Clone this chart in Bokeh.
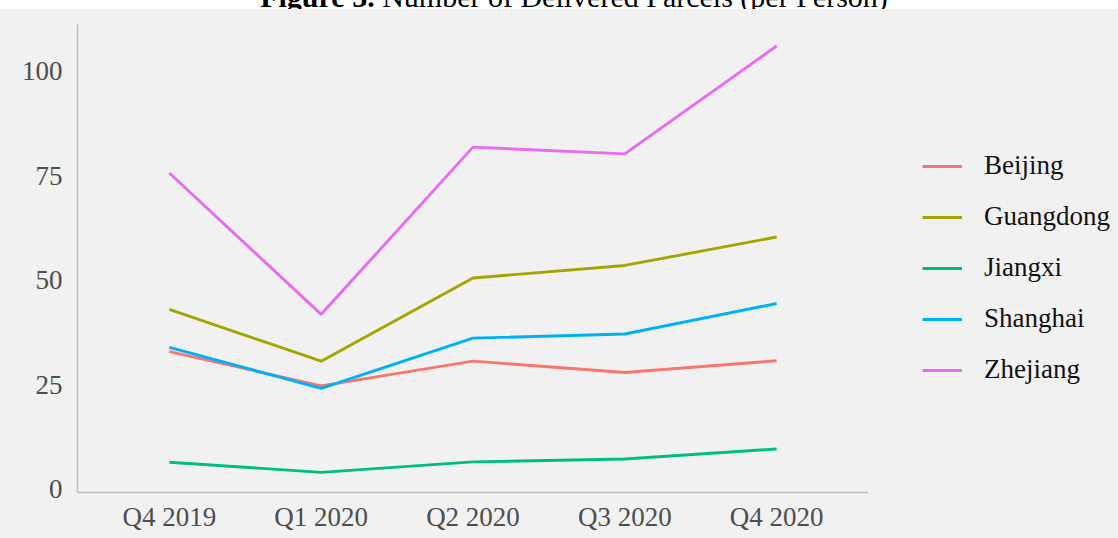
from bokeh.plotting import figure
from bokeh.models import (FactorRange, Range1d, FixedTicker, Legend, LegendItem, Div,
                          ColumnDataSource)
from bokeh.layouts import column, row
from bokeh.embed import file_html
from bokeh.resources import INLINE

quarters = ["Q4 2019", "Q1 2020", "Q2 2020", "Q3 2020", "Q4 2020"]
regions = ["Beijing", "Guangdong", "Jiangxi", "Shanghai", "Zhejiang"]
beijing = [33.0, 24.8, 30.7, 28.0, 30.8]
guangdong = [43.1, 30.7, 50.6, 53.6, 60.4]
jiangxi = [6.5, 4.1, 6.6, 7.3, 9.7]
shanghai = [34.0, 24.2, 36.2, 37.2, 44.5]
zhejiang = [75.7, 41.9, 81.9, 80.3, 106.1]
y_ticks = [0, 25, 50, 75, 100]
colors = ["#F8766D", "#A3A500", "#00BF7D", "#00B0F6", "#E76BF3"]
series = [beijing, guangdong, jiangxi, shanghai, zhejiang]

BG = "#f1f1f1"
FONT = "Liberation Serif"
LW = 2.9

p = figure(width=858, height=529, output_backend="svg", toolbar_location=None,
           x_range=FactorRange(factors=quarters, range_padding=0.105, range_padding_units="absolute"),
           y_range=Range1d(-0.72, 111.24),
           min_border_left=67, min_border_right=0, min_border_top=15, min_border_bottom=46)
p.margin = (0, 0, 0, 10)
p.background_fill_color = BG
p.border_fill_color = BG
p.outline_line_color = None
p.xgrid.visible = False
p.ygrid.visible = False

for ax in (p.xaxis[0], p.yaxis[0]):
    ax.axis_line_color = "#bdbdbd"
    ax.axis_line_width = 1.5
    ax.major_tick_line_color = None
    ax.minor_tick_line_color = None
    ax.major_tick_in = 0
    ax.major_tick_out = 0
    ax.minor_tick_in = 0
    ax.minor_tick_out = 0
    ax.major_label_text_font = FONT
    ax.major_label_text_font_size = "27px"
    ax.major_label_text_color = "#4d4d4d"

p.yaxis.ticker = FixedTicker(ticks=y_ticks)
p.yaxis.major_label_standoff = 15
p.xaxis.major_label_standoff = 9

for name, vals, c in zip(regions, series, colors):
    src = ColumnDataSource(dict(x=quarters, y=vals))
    p.line("x", "y", source=src, line_color=c, line_width=LW)

# legend panel: key renderers carry no drawable points (NaN), the legend draws the keys
pl = figure(width=250, height=529, output_backend="svg", toolbar_location=None,
            x_range=Range1d(0, 1), y_range=Range1d(0, 1),
            x_axis_location=None, y_axis_location=None,
            min_border_left=0, min_border_right=0, min_border_top=0, min_border_bottom=0)
pl.margin = (0, 0, 0, 0)
pl.background_fill_color = BG
pl.border_fill_color = BG
pl.outline_line_color = None
pl.xgrid.visible = False
pl.ygrid.visible = False

nan = float("nan")
items = []
for name, c in zip(regions, colors):
    r = pl.line(x=[nan], y=[nan], line_color=c, line_width=LW)
    items.append(LegendItem(label=name, renderers=[r]))

legend = Legend(items=items, location=(54, 107), padding=0, margin=0,
                border_line_color=None, background_fill_alpha=0,
                glyph_width=40, glyph_height=30, label_height=30, spacing=20,
                label_standoff=22, label_text_font=FONT, label_text_font_size="27px",
                label_text_color="#111111")
pl.add_layout(legend, "center")

title = Div(text=('<div style="position:relative; top:-18px; left:15px; width:1118px; text-align:center; '
                  'white-space:nowrap; font-family:\'Liberation Serif\'; font-size:30px; '
                  'line-height:30px; color:#000;"><b>Figure 3.</b> Number of Delivered Parcels (per Person)</div>'),
            width=1118, height=9, margin=(0, 0, 0, 0), styles={"overflow": "hidden", "background": "white"})

body = row(p, pl, spacing=0, margin=(0, 0, 0, 0), styles={"background-color": BG})
layout = column(title, body, spacing=0, margin=(0, 0, 0, 0))

open("out.html", "w").write(file_html(layout, INLINE))
